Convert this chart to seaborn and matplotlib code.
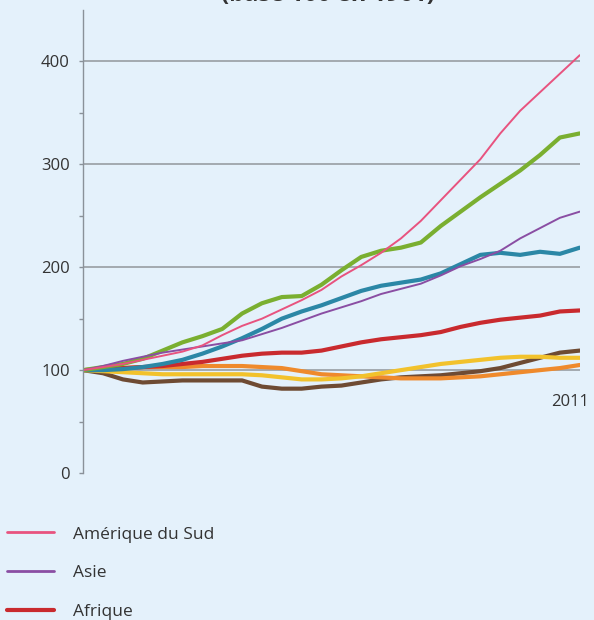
import matplotlib.pyplot as plt
import seaborn as sns
import numpy as np
import pandas as pd

# Indice base 100 (un point tous les 2 ans)
years = list(range(1961, 2012, 2))

amerique_sud = [100, 103, 106, 110, 114, 118, 124, 134, 143, 150, 159, 168, 178,
                191, 202, 214, 228, 245, 265, 285, 305, 330, 352, 370, 388, 406]
asie = [100, 104, 109, 113, 117, 120, 123, 126, 129, 135, 141, 148, 155,
        161, 167, 174, 179, 184, 192, 201, 208, 216, 228, 238, 248, 254]
afrique = [100, 101, 102, 103, 104, 106, 108, 111, 114, 116, 117, 117, 119,
           123, 127, 130, 132, 134, 137, 142, 146, 149, 151, 153, 157, 158]
serie_verte = [100, 103, 106, 111, 119, 127, 133, 140, 155, 165, 171, 172, 183,
               197, 210, 216, 219, 224, 240, 254, 268, 281, 294, 309, 326, 330]
serie_bleue = [100, 100, 101, 103, 106, 110, 116, 123, 131, 140, 150, 157, 163,
               170, 177, 182, 185, 188, 194, 203, 212, 214, 212, 215, 213, 219]
serie_orange = [100, 101, 102, 103, 103, 103, 104, 104, 104, 103, 102, 99, 96,
                95, 94, 93, 92, 92, 92, 93, 94, 96, 98, 100, 102, 105]
serie_jaune = [100, 99, 98, 97, 96, 96, 96, 96, 96, 95, 93, 91, 91,
               92, 94, 97, 100, 103, 106, 108, 110, 112, 113, 113, 112, 112]
serie_brune = [100, 97, 91, 88, 89, 90, 90, 90, 90, 84, 82, 82, 84,
               85, 88, 91, 93, 94, 95, 97, 99, 102, 107, 112, 117, 119]

legend_labels = ["Amérique du Sud", "Asie", "Afrique"]

bg = "#e4f1fb"
sns.set_theme(style="white")
plt.rcParams["font.family"] = ["Open Sans", "DejaVu Sans"]

fig = plt.figure(figsize=(5.94, 6.2), dpi=100, facecolor=bg)
ax = fig.add_axes([0.14, 0.237, 0.836, 0.747], facecolor=bg)

# thick lines first, thin lines on top
series = [
    ("Série brune", serie_brune, "#6e4b33", 3.0),
    ("Série orange", serie_orange, "#ef8a2c", 3.0),
    ("Série jaune", serie_jaune, "#f2c22c", 3.0),
    ("Afrique", afrique, "#c92a2e", 3.0),
    ("Série bleue", serie_bleue, "#2b87a6", 3.0),
    ("Série verte", serie_verte, "#7aaf30", 3.0),
    ("Asie", asie, "#8a4ea3", 1.4),
    ("Amérique du Sud", amerique_sud, "#e8537f", 1.4),
]
handles = {}
for name, vals, color, lw in series:
    df = pd.DataFrame({"annee": years, "indice": vals})
    sns.lineplot(data=df, x="annee", y="indice", color=color, linewidth=lw, ax=ax)
    handles[name] = ax.lines[-1]

ax.set_xlim(1961, 2011)
ax.set_ylim(0, 450)
ax.set_yticks([0, 100, 200, 300, 400])
ax.set_yticks([50, 150, 250, 350], minor=True)
ax.set_xticks([])
ax.set_xlabel("")
ax.set_ylabel("")
for y in [100, 200, 300, 400]:
    ax.axhline(y, color="#9ea4aa", linewidth=1.3, zorder=0)

for side in ["top", "right", "bottom"]:
    ax.spines[side].set_visible(False)
ax.spines["left"].set_color("#8a9199")
ax.spines["left"].set_linewidth(1.0)
ax.tick_params(axis="y", which="major", left=True, length=3, width=1,
               color="#8a9199", pad=6.5, labelsize=12, labelcolor="#333333")
ax.tick_params(axis="y", which="minor", left=True, length=3, width=1, color="#8a9199")

ax.text(2010, 69, "2011", ha="center", va="center", fontsize=12, color="#333333")

# title, cut by the top edge of the picture
fig.text(0.552, 0.999, "(base 100 en 1961)", ha="center", va="baseline",
         fontsize=17, fontweight="bold", color="#333333")

leg = fig.legend([handles[n] for n in legend_labels], legend_labels,
                 loc="upper left", bbox_to_anchor=(0.012, 0.151), frameon=False,
                 fontsize=12.5, handlelength=2.7, handletextpad=1.1,
                 labelspacing=1.3, borderpad=0, borderaxespad=0)
for t in leg.get_texts():
    t.set_color("#333333")
for h in leg.legend_handles[:2]:
    h.set_linewidth(2.0)

fig.savefig("out.png", dpi=100, facecolor=bg)
